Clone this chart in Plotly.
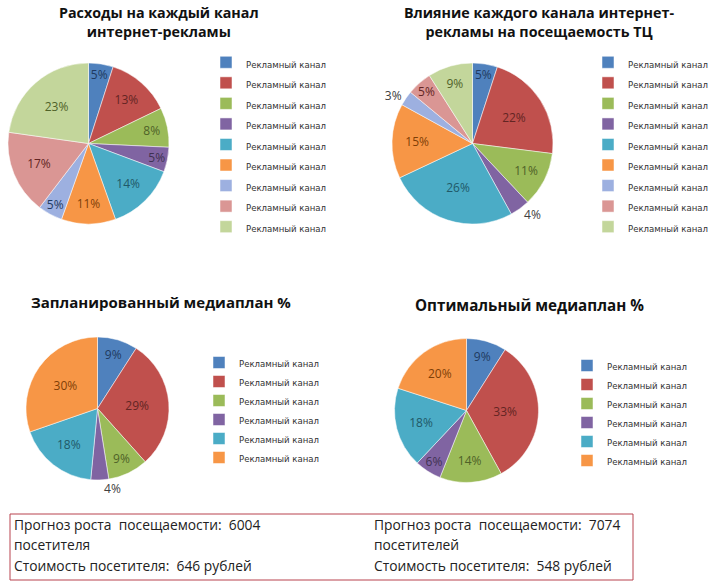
import plotly.graph_objects as go

W, H = 713, 586

# ---------------- data ----------------
channel_label = "Рекламный канал"

spend_values = [5, 13, 8, 5, 14, 11, 5, 17, 23]
impact_values = [5, 22, 11, 4, 26, 15, 3, 5, 9]
planned_values = [9, 29, 9, 4, 18, 30]
optimal_values = [9, 33, 14, 6, 18, 20]

titles = [
    "Расходы на каждый канал<br>интернет-рекламы",
    "Влияние каждого канала интернет-<br>рекламы на посещаемость ТЦ",
    "Запланированный медиаплан %",
    "Оптимальный медиаплан %",
]

box_left = ["Прогноз роста  посещаемости:  6004", "посетителя", "Стоимость посетителя:  646 рублей"]
box_right = ["Прогноз роста  посещаемости:  7074", "посетителей", "Стоимость посетителя:  548 рублей"]

# ---------------- styles ----------------
colors = ["#4F81BD", "#C0504D", "#9BBB59", "#8064A2", "#4BACC6",
          "#F79646", "#9DB0E0", "#DA9694", "#C3D69B"]
label_colors = ["#1F3A60", "#632523", "#4F6228", "#3F3151", "#215968",
                "#7F3F06", "#1F3A60", "#632523", "#4F6228"]

def px_x(x):
    return x / W

def px_y(y):
    return 1 - y / H

def dom(cx, cy, r):
    return dict(x=[px_x(cx - r), px_x(cx + r)], y=[px_y(cy + r), px_y(cy - r)])

fig = go.Figure()

pies = [
    (spend_values, dom(88.5, 143.5, 80.5), "legend", []),
    (impact_values, dom(472.5, 143.5, 80.5), "legend2", [3, 6]),
    (planned_values, dom(97.5, 408.5, 71.5), "legend3", [3]),
    (optimal_values, dom(466.5, 410.5, 72), "legend4", []),
]

for k, (vals, d, lg, outside) in enumerate(pies):
    n = len(vals)
    pos = ["outside" if i in outside else "inside" for i in range(n)]
    tcol = ["#404040" if i in outside else label_colors[i] for i in range(n)]
    labels = [f'<span style="font-family:DejaVu Sans Condensed;font-size:9.5px">{channel_label}</span>'
              + " " * (k * 10 + i + 1) for i in range(n)]
    fig.add_trace(go.Pie(
        labels=labels,
        values=vals,
        text=[f"{v}%" for v in vals],
        textinfo="text",
        textposition=pos,
        insidetextorientation="horizontal",
        textfont=dict(family="Open Sans, sans-serif", size=12, color=tcol),
        sort=False,
        direction="clockwise",
        rotation=0,
        marker=dict(colors=colors[:n], line=dict(color="white", width=0.5)),
        domain=d,
        legend=lg,
        hoverinfo="value",
    ))

def legend_at(x, y, size):
    return dict(x=px_x(x), y=px_y(y), xanchor="left", yanchor="top",
                font=dict(family="DejaVu Sans Condensed, Liberation Sans, sans-serif", size=size, color="#333333"),
                bgcolor="rgba(0,0,0,0)", itemwidth=30, traceorder="normal")

title_specs = [
    (titles[0], 159, 22, 14.3),
    (titles[1], 539, 22, 14.3),
    (titles[2], 161, 302, 15.0),
    (titles[3], 529, 305, 15.2),
]
annotations = []
for t, x, y, s in title_specs:
    annotations.append(dict(text=f"<b>{t}</b>", x=px_x(x), y=px_y(y), xref="paper", yref="paper",
                            xanchor="center", yanchor="middle", showarrow=False,
                            font=dict(family="Open Sans, sans-serif", size=s, color="#111111")))

line_ys = [524, 544, 565]
for col_x, lines in ((12, box_left), (372, box_right)):
    for ly, t in zip(line_ys, lines):
        annotations.append(dict(text=t, x=px_x(col_x), y=px_y(ly), xref="paper", yref="paper",
                                xanchor="left", yanchor="middle", showarrow=False,
                                font=dict(family="Open Sans, sans-serif", size=13.8, color="#222222")))

fig.update_layout(
    width=W, height=H,
    margin=dict(l=0, r=0, t=0, b=0, autoexpand=False),
    paper_bgcolor="white",
    plot_bgcolor="white",
    showlegend=True,
    uniformtext=dict(minsize=12, mode="show"),
    legend=legend_at(206, 47, 13.5),
    legend2=legend_at(588, 47, 13.5),
    legend3=legend_at(199, 348, 11),
    legend4=legend_at(567, 351, 10.6),
    annotations=annotations,
    shapes=[dict(type="rect", xref="paper", yref="paper",
                 x0=px_x(10), x1=px_x(633), y0=px_y(580), y1=px_y(514),
                 line=dict(color="#B8434E", width=1))],
)

fig.write_html("out.html", config={"displayModeBar": False},
               post_script="document.body.style.margin='0';")
